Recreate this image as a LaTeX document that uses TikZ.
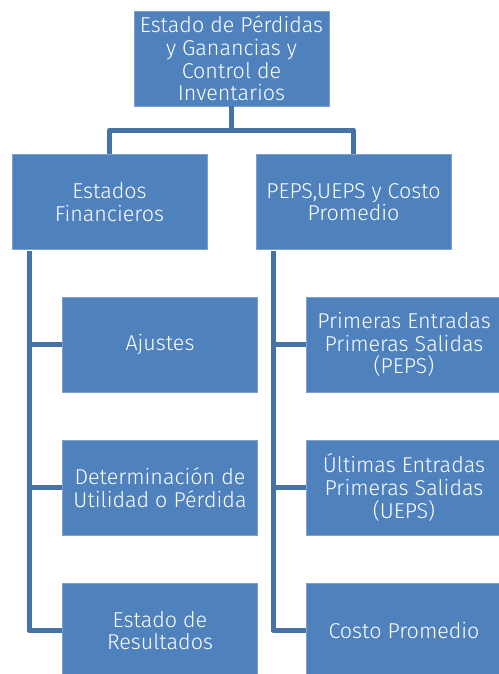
\documentclass[tikz,border=0pt]{standalone}
\usepackage{fontspec}
\setmainfont{Fira Sans}[UprightFont=* Light]
\definecolor{boxfill}{RGB}{79,129,189}
\definecolor{boxline}{RGB}{125,160,205}
\definecolor{conn}{RGB}{70,114,165}
\tikzset{
  box/.style={draw=boxline, line width=0.8pt, fill=boxfill, text=white, align=center,
    minimum width=195pt, minimum height=95pt, inner sep=0pt,
    font=\fontsize{21.5}{22.7}\selectfont},
  link/.style={draw=conn, line width=5pt, line join=round}
}
\begin{document}
\begin{tikzpicture}[x=1pt,y=-1pt]
\useasboundingbox (0,0) rectangle (498,674);
\coordinate (mid) at (231.5,130);
\coordinate (lt) at (29,251);
\coordinate (rt) at (273,251);
\node[box] (top) at (231.5,58.5) {Estado de Pérdidas\\y Ganancias y\\Control de\\Inventarios};
\node[box] (ef) at (109.5,202) {Estados\\Financieros};
\node[box] (pu) at (353.5,202) {PEPS,UEPS y Costo\\Promedio};
\node[box] (aj) at (160,344.5) {Ajustes};
\node[box] (du) at (160,487.5) {Determinación de\\Utilidad o Pérdida};
\node[box] (er) at (160,630.5) {Estado de\\Resultados};
\node[box] (pe) at (404,344.5) {Primeras Entradas\\Primeras Salidas\\(PEPS)};
\node[box] (ue) at (404,487.5) {Últimas Entradas\\Primeras Salidas\\(UEPS)};
\node[box] (cp) at (404,630.5) {Costo Promedio};
\path[link] (top.south) -- (mid) -| (ef.north);
\path[link] (mid) -| (pu.north);
\path[link] (lt) |- (aj.west);
\path[link] (lt) |- (du.west);
\path[link] (lt) |- (er.west);
\path[link] (rt) |- (pe.west);
\path[link] (rt) |- (ue.west);
\path[link] (rt) |- (cp.west);
\end{tikzpicture}
\end{document}
